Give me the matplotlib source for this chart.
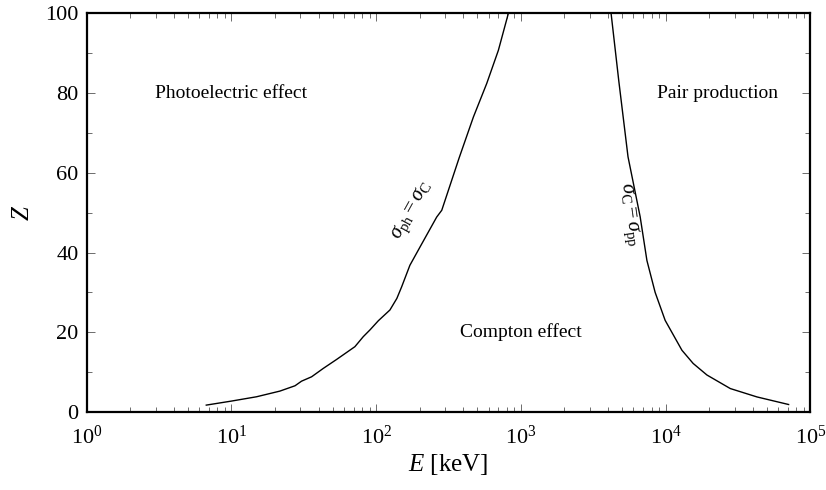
import numpy as np
import matplotlib
matplotlib.use("Agg")
import matplotlib.pyplot as plt
from matplotlib.ticker import LogLocator, MultipleLocator, NullFormatter

plt.rcParams['font.family'] = ['Liberation Serif', 'DejaVu Serif']
plt.rcParams['mathtext.fontset'] = 'custom'
plt.rcParams['mathtext.rm'] = 'Liberation Serif'
plt.rcParams['mathtext.it'] = 'Liberation Serif:italic'

# photoelectric / compton boundary (E in keV, Z)
e_ph = [6.7, 10.0, 14.9, 21.6, 27.5, 30.5, 35.8, 43.1, 53.3, 71.3, 81.4, 90.6,
        103.5, 124.5, 139, 150, 171, 201, 262, 284, 375, 470, 581, 699, 820]
z_ph = [1.75, 2.76, 3.84, 5.26, 6.6, 7.75, 8.85, 10.95, 13.2, 16.4, 18.9, 20.6,
        22.9, 25.6, 28.5, 31.4, 36.8, 41.4, 48.9, 50.6, 63.8, 74.0, 82.4, 90.7, 100]

# compton / pair production boundary
e_pp = [4200, 4750, 5500, 6670, 7430, 8470, 9930, 12970, 15500, 19300, 28000, 42800, 70800]
z_pp = [100, 83.0, 64.0, 49.0, 38.0, 30.0, 23.0, 15.5, 12.2, 9.3, 5.9, 3.8, 1.9]

regions = ["Photoelectric effect", "Compton effect", "Pair production"]
region_e = [10, 1000, 2.3e4]
region_z = [80, 20, 80]

fig = plt.figure(figsize=(8.26, 4.9), dpi=100)
ax = fig.add_axes([0.105, 0.159, 0.876, 0.814])

ax.plot(e_ph, z_ph, color='black', lw=1.0)
ax.plot(e_pp, z_pp, color='black', lw=1.0)

for name, e, z in zip(regions, region_e, region_z):
    ax.text(e, z, name, ha='center', va='center', fontsize=14)

ax.text(180, 50.5, r'$\sigma_{\mathrm{ph}} = \sigma_{\mathrm{C}}$', rotation=61,
        ha='center', va='center', fontsize=15, rotation_mode='anchor')
ax.text(5600, 49.5, r'$\sigma_{\mathrm{C}} = \sigma_{\mathrm{pp}}$', rotation=-82,
        ha='center', va='center', fontsize=15, rotation_mode='anchor')

ax.set_xscale('log')
ax.set_xlim(1, 1e5)
ax.set_ylim(0, 100)
ax.xaxis.set_major_locator(LogLocator(base=10, numticks=10))
ax.xaxis.set_minor_locator(LogLocator(base=10, subs=np.arange(2, 10), numticks=20))
ax.xaxis.set_minor_formatter(NullFormatter())
ax.yaxis.set_major_locator(MultipleLocator(20))
ax.yaxis.set_minor_locator(MultipleLocator(10))

ax.tick_params(which='both', direction='in', top=True, right=True,
               labelsize=16, width=0.6, color='#555555')
ax.tick_params(which='major', length=6)
ax.tick_params(which='minor', length=3.5)
ax.tick_params(axis='x', which='major', pad=10)
ax.tick_params(axis='y', which='major', pad=6)
for s in ax.spines.values():
    s.set_linewidth(1.6)

ax.set_xlabel(r'$E$ [keV]', fontsize=18, labelpad=2)
ax.set_ylabel(r'$Z$', fontsize=18, labelpad=8)

fig.savefig('out.png', dpi=100)
